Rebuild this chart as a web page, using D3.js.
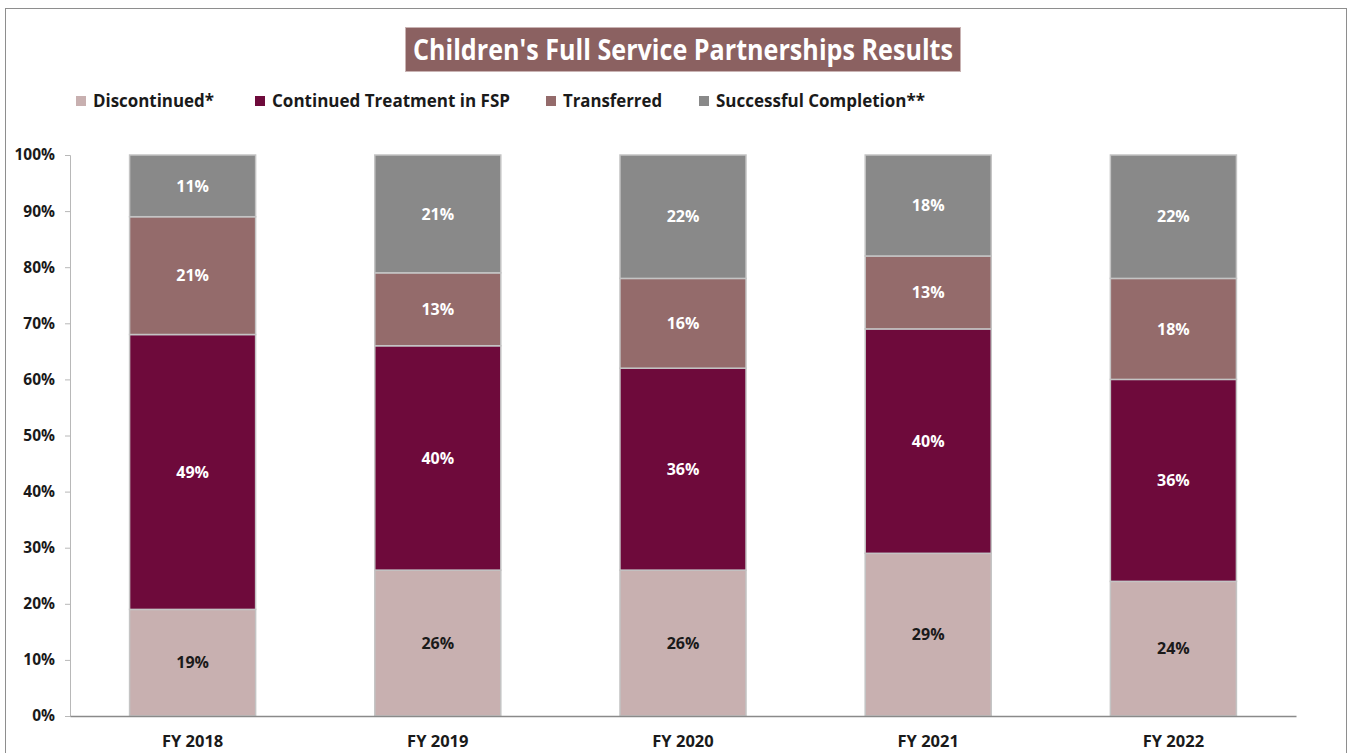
<!DOCTYPE html>
<html>
<head>
<meta charset="utf-8">
<script src="https://cdn.jsdelivr.net/npm/d3@7"></script>
<style>
  html, body { margin: 0; padding: 0; background: #fff; }
  svg { display: block; }
  text { font-family: "Open Sans", "Noto Sans", sans-serif; font-weight: bold; }
</style>
</head>
<body>
<svg id="chart" width="1350" height="753"></svg>
<script>
// Fiscal years on the category axis
const years = ["FY 2018", "FY 2019", "FY 2020", "FY 2021", "FY 2022"];

// Share of children (percent) in each outcome, per fiscal year
const discontinued = [19, 26, 26, 29, 24];
const continuedFSP = [49, 40, 36, 40, 36];
const transferred  = [21, 13, 16, 13, 18];
const successful   = [11, 21, 22, 18, 22];

// Outcome series, bottom to top
const seriesNames = ["Discontinued*", "Continued Treatment in FSP", "Transferred", "Successful Completion**"];
const seriesValues = [discontinued, continuedFSP, transferred, successful];
const seriesColors = ["#c8b0b0", "#6e0a3b", "#946b6b", "#898989"];
const labelColors  = ["#1a1a1a", "#ffffff", "#ffffff", "#ffffff"];

// Y tick values
const yTicks = [0, 10, 20, 30, 40, 50, 60, 70, 80, 90, 100];

const svg = d3.select("#chart");

// Outer frame
svg.append("rect")
  .attr("x", 5.5).attr("y", 8.5)
  .attr("width", 1341).attr("height", 760)
  .attr("fill", "none").attr("stroke", "#8e8e8e").attr("stroke-width", 1);

// Title box
const titleG = svg.append("g");
titleG.append("rect")
  .attr("x", 405.5).attr("y", 27.5).attr("width", 555).attr("height", 44)
  .attr("fill", "#8b6161").attr("stroke", "#c9b3b3").attr("stroke-width", 1);
titleG.append("text")
  .attr("x", 683).attr("y", 60)
  .attr("text-anchor", "middle")
  .attr("fill", "#ffffff")
  .attr("font-size", 28)
  .attr("textLength", 540).attr("lengthAdjust", "spacingAndGlyphs")
  .text("Children's Full Service Partnerships Results");

// Legend
const legendX = [76, 255, 546, 699];
const legendW = [121, 238, 99, 209];
const legend = svg.append("g");
seriesNames.forEach((name, i) => {
  legend.append("rect")
    .attr("x", legendX[i]).attr("y", 96)
    .attr("width", 10).attr("height", 10)
    .attr("fill", seriesColors[i]);
  legend.append("text")
    .attr("x", legendX[i] + 17).attr("y", 107)
    .attr("font-size", 17.5)
    .attr("fill", "#1a1a1a")
    .attr("textLength", legendW[i]).attr("lengthAdjust", "spacingAndGlyphs")
    .text(name);
});

// Plot area
const plot = { left: 70, right: 1296, top: 155, bottom: 716 };

const x = d3.scaleBand()
  .domain(years)
  .range([plot.left, plot.right])
  .paddingInner(0.486)
  .paddingOuter(0.243);

const y = d3.scaleLinear()
  .domain([0, 100])
  .range([plot.bottom, plot.top]);

// Y axis
const yAxis = d3.axisLeft(y)
  .tickValues(yTicks)
  .tickSize(5)
  .tickPadding(10)
  .tickFormat(d => d + "%");
const yG = svg.append("g")
  .attr("transform", `translate(${plot.left},0)`)
  .call(yAxis);
yG.select(".domain").attr("stroke", "#b8b8b8").attr("stroke-width", 1);
yG.selectAll(".tick line").attr("stroke", "#b8b8b8");
yG.selectAll(".tick text")
  .attr("fill", "#1a1a1a")
  .attr("font-size", 15.5)
  .attr("font-family", "\"Open Sans\", sans-serif")
  .attr("font-weight", "bold");

// Stacked bars
const table = years.map((yr, j) => {
  const row = { year: yr };
  seriesNames.forEach((n, i) => { row[n] = seriesValues[i][j]; });
  return row;
});
const stacked = d3.stack().keys(seriesNames)(table);

const layers = svg.append("g").selectAll("g.layer")
  .data(stacked)
  .join("g")
  .attr("class", "layer")
  .attr("fill", (d, i) => seriesColors[i]);

layers.selectAll("rect")
  .data(d => d)
  .join("rect")
  .attr("x", d => x(d.data.year))
  .attr("y", d => y(d[1]))
  .attr("width", x.bandwidth())
  .attr("height", d => y(d[0]) - y(d[1]))
  .attr("stroke", "#c4c4c4")
  .attr("stroke-width", 1.5);

// Value labels centred in each segment
stacked.forEach((layer, i) => {
  svg.append("g").selectAll("text")
    .data(layer)
    .join("text")
    .attr("x", d => x(d.data.year) + x.bandwidth() / 2)
    .attr("y", d => (y(d[0]) + y(d[1])) / 2)
    .attr("dy", "0.36em")
    .attr("text-anchor", "middle")
    .attr("font-size", 16)
    .attr("fill", labelColors[i])
    .text(d => (d[1] - d[0]) + "%");
});

// X axis
const xAxis = d3.axisBottom(x).tickSize(0).tickPadding(19);
const xG = svg.append("g")
  .attr("transform", `translate(0,${plot.bottom})`)
  .call(xAxis);
xG.select(".domain").attr("stroke", "#8a8a8a").attr("stroke-width", 1.5);
xG.selectAll(".tick text")
  .attr("fill", "#1a1a1a")
  .attr("font-size", 16.5)
  .attr("font-family", "\"Open Sans\", sans-serif")
  .attr("font-weight", "bold");
</script>
</body>
</html>
